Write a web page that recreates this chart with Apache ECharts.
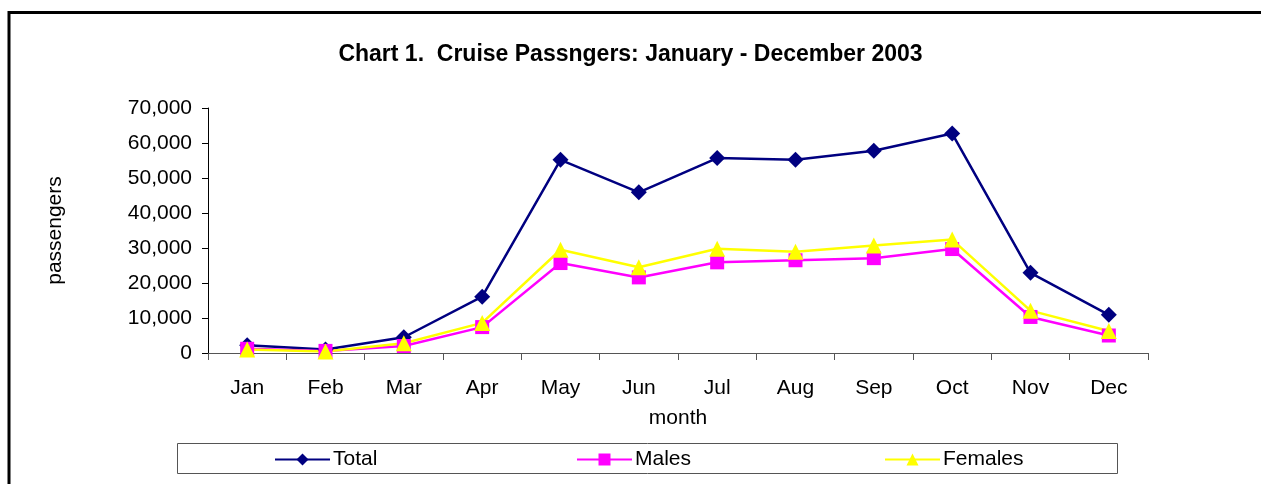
<!DOCTYPE html>
<html>
<head>
<meta charset="utf-8">
<title>Cruise Passengers 2003</title>
<script src="https://cdn.jsdelivr.net/npm/echarts@6/dist/echarts.min.js"></script>
<style>
  html, body { margin: 0; padding: 0; background: #fff; }
  #chart { width: 1261px; height: 484px; }
</style>
</head>
<body>
<div id="chart"></div>
<script>
// month categories
var months = ['Jan', 'Feb', 'Mar', 'Apr', 'May', 'Jun', 'Jul', 'Aug', 'Sep', 'Oct', 'Nov', 'Dec'];
// passengers per month
var totalData   = [2200, 1000, 4500, 16100, 55200, 45900, 55700, 55200, 57800, 62700, 22900, 10900];
var malesData   = [1200, 600, 2000, 7400, 25700, 21600, 25900, 26500, 27100, 29700, 10300, 5000];
var femalesData = [1000, 400, 2800, 8600, 29500, 24500, 29800, 28900, 30700, 32400, 12100, 6300];
var yTicks = [0, 10000, 20000, 30000, 40000, 50000, 60000, 70000];

var font = "'Liberation Sans', Arial, sans-serif";
var chart = echarts.init(document.getElementById('chart'));

function legendAt(name, left) {
  return {
    data: [name],
    left: left,
    top: 449,
    itemWidth: 55,
    itemHeight: 15,
    itemGap: 0,
    padding: 0,
    textStyle: { fontFamily: font, fontSize: 21, color: '#000', padding: [0, 0, 0, -2] }
  };
}

chart.setOption({
  animation: false,
  backgroundColor: '#fff',
  title: {
    text: 'Chart 1.  Cruise Passngers: January - December 2003',
    left: 'center',
    top: 38,
    textStyle: { fontFamily: font, fontSize: 23, fontWeight: 'bold', color: '#000' }
  },
  legend: [
    legendAt('Total', 274),
    legendAt('Males', 576),
    legendAt('Females', 884)
  ],
  grid: { left: 208, right: 113, top: 108, bottom: 131 },
  xAxis: {
    type: 'category',
    data: months,
    boundaryGap: true,
    name: 'month',
    nameLocation: 'middle',
    nameGap: 55,
    nameTextStyle: { fontFamily: font, fontSize: 21, color: '#000' },
    axisLine: { lineStyle: { color: '#555', width: 1 } },
    axisTick: { show: true, length: 7, lineStyle: { color: '#555' } },
    axisLabel: { fontFamily: font, fontSize: 21, color: '#000', margin: 25 },
    splitLine: { show: false }
  },
  yAxis: {
    type: 'value',
    min: yTicks[0],
    max: yTicks[yTicks.length - 1],
    interval: yTicks[1] - yTicks[0],
    name: 'passengers',
    nameLocation: 'middle',
    nameGap: 142,
    nameTextStyle: { fontFamily: font, fontSize: 21, color: '#000' },
    axisLine: { show: true, lineStyle: { color: '#000', width: 1 } },
    axisTick: { show: true, length: 6, lineStyle: { color: '#000' } },
    axisLabel: {
      fontFamily: font, fontSize: 21, color: '#000', margin: 16,
      formatter: function (v) { return v.toLocaleString('en-US'); }
    },
    splitLine: { show: false }
  },
  series: [
    {
      name: 'Total', type: 'line', data: totalData,
      symbol: 'diamond', symbolSize: 16,
      itemStyle: { color: '#000080' },
      lineStyle: { color: '#000080', width: 2.5 }
    },
    {
      name: 'Males', type: 'line', data: malesData,
      symbol: 'rect', symbolSize: 14,
      itemStyle: { color: '#ff00ff' },
      lineStyle: { color: '#ff00ff', width: 2.5 }
    },
    {
      name: 'Females', type: 'line', data: femalesData,
      symbol: 'triangle', symbolSize: 16,
      itemStyle: { color: '#ffff00' },
      lineStyle: { color: '#ffff00', width: 2.5 }
    }
  ],
  graphic: [
    // outer frame (runs off the right and bottom edges)
    {
      type: 'rect', silent: true, z: -1,
      shape: { x: 9, y: 12.5, width: 1400, height: 700 },
      style: { fill: 'none', stroke: '#000', lineWidth: 3 }
    },
    // legend box
    {
      type: 'rect', silent: true, z: -1,
      shape: { x: 177.5, y: 443.5, width: 940, height: 30 },
      style: { fill: 'none', stroke: '#555', lineWidth: 1 }
    }
  ]
});
</script>
</body>
</html>
